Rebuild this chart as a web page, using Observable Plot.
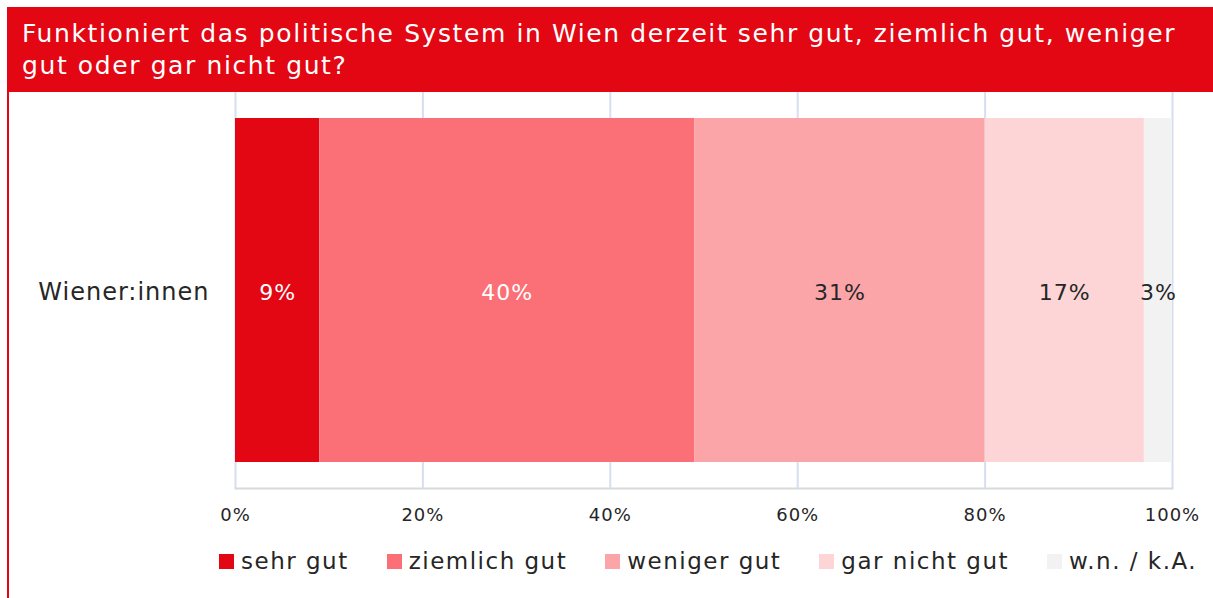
<!DOCTYPE html>
<html><head><meta charset="utf-8">
<script src="https://cdn.jsdelivr.net/npm/d3@7"></script>
<script src="https://cdn.jsdelivr.net/npm/@observablehq/plot@0.6"></script>
<style>
body{margin:0;background:#fff;font-family:"DejaVu Sans",sans-serif;}
#wrap{position:relative;width:1213px;height:598px;overflow:hidden;}
#title{position:absolute;left:7px;top:7px;width:1206px;height:85px;background:#e30613;color:#fff;font-size:25px;letter-spacing:1.6px;line-height:32px;padding:11px 0 0 15px;box-sizing:border-box;white-space:nowrap;}
#leftline{position:absolute;left:7px;top:92px;width:2px;height:506px;background:#e30613;}
#chart{position:absolute;left:0;top:92px;}
#chart svg text{letter-spacing:1px;}
#legend{position:absolute;left:219px;top:548px;display:flex;gap:38px;font-size:23px;letter-spacing:1.5px;color:#262626;white-space:nowrap;}
#legend .it{display:flex;align-items:center;}
#legend .sw{width:15px;height:15px;margin-right:7px;}
</style></head>
<body><div id="wrap">
<div id="title">Funktioniert das politische System in Wien derzeit sehr gut, ziemlich gut, weniger<br>gut oder gar nicht gut?</div>
<div id="leftline"></div>
<div id="chart"></div>
<div id="legend"></div>
</div>
<script>
const groups = ["Wiener:innen"];
const categories = ["sehr gut", "ziemlich gut", "weniger gut", "gar nicht gut", "w.n. / k.A."];
const values = [9, 40, 31, 17, 3];
const colors = ["#e30613", "#fb6f77", "#fca5a8", "#fdd5d7", "#f2f2f2"];
const labelColors = ["#ffffff", "#ffffff", "#262626", "#262626", "#262626"];
const xTicks = [0, 20, 40, 60, 80, 100];

const data = categories.map((c, i) => ({group: groups[0], cat: c, value: values[i], lc: labelColors[i]}));

const chart = Plot.plot({
  width: 1213,
  height: 446,
  marginLeft: 235,
  marginRight: 41,
  marginTop: 0,
  marginBottom: 50,
  style: {fontFamily: '"DejaVu Sans", sans-serif', color: "#262626", background: "transparent"},
  x: {domain: [0, 100], ticks: xTicks},
  y: {domain: groups, padding: 0.07, label: null},
  color: {domain: categories, range: colors},
  marks: [
    Plot.gridX(xTicks, {stroke: "#d6dff0", strokeOpacity: 1, strokeWidth: 2}),
    Plot.barX(data, Plot.stackX({x: "value", y: "group", fill: "cat", order: categories})),
    Plot.text(data, Plot.stackX({x: "value", y: "group", text: d => d.value + "%", fill: "lc", fontSize: 22, dy: 2, order: categories})),
    Plot.frame({anchor: "bottom", stroke: "#d9d9d9", strokeWidth: 2}),
    Plot.axisX(xTicks, {tickSize: 0, tickPadding: 20, tickFormat: d => d + "%", fontSize: 18, label: null, fill: "#262626"}),
    Plot.axisY({tickSize: 0, tickPadding: 26, fontSize: 24, dy: 2, label: null, fill: "#262626"})
  ]
});
document.getElementById("chart").appendChild(chart);

const leg = document.getElementById("legend");
categories.forEach((c, i) => {
  const it = document.createElement("div"); it.className = "it";
  const sw = document.createElement("div"); sw.className = "sw"; sw.style.background = colors[i];
  const t = document.createElement("span"); t.textContent = c;
  it.appendChild(sw); it.appendChild(t); leg.appendChild(it);
});
</script>
</body></html>
